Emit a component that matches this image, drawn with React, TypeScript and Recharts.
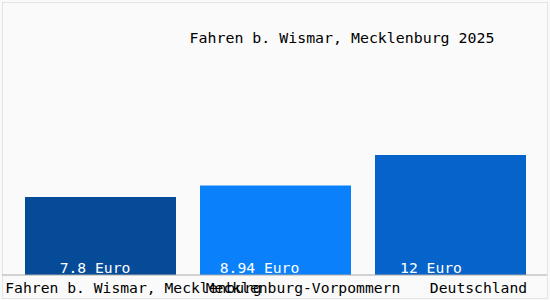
import React from "react";
import { BarChart, Bar, XAxis, YAxis, Cell, LabelList, Customized } from "recharts";

const categories = ["Fahren b. Wismar, Mecklenburg", "Mecklenburg-Vorpommern", "Deutschland"];
const values = [7.8, 8.94, 12];
const valueLabels = ["7.8 Euro", "8.94 Euro", "12 Euro"];
const title = "Fahren b. Wismar, Mecklenburg 2025";

const colors = ["#064b98", "#0a80fa", "#0663c9"];
const tickDx = [33, 27.5, 28];
const valueDx = [-5.5, -16, -19.5];

const data = categories.map((name, i) => ({ name, value: values[i], label: valueLabels[i] }));

const FONT = "'DejaVu Sans Mono', 'Liberation Mono', monospace";

const Tick = (props: any) => {
  const { x, y, payload, index } = props;
  return (
    <text x={x + tickDx[index]} y={y} dy={18} textAnchor="middle" fontFamily={FONT} fontSize={14.7} fill="#000">
      {payload.value}
    </text>
  );
};

const ValueLabel = (props: any) => {
  const { x, y, width, height, index } = props;
  return (
    <text x={x + width / 2 + valueDx[index]} y={y + height - 2} textAnchor="middle" fontFamily={FONT} fontSize={14.7} fill="#ffffff">
      {valueLabels[index]}
    </text>
  );
};

export default function App() {
  return (
    <div style={{ position: "absolute", left: 0, top: 0, width: 550, height: 300, background: "#fafafa" }}>
      <div style={{ position: "absolute", left: 2, top: 2, width: 544, height: 295, border: "1px solid #e4e4e4" }} />
      <div style={{ position: "absolute", left: 0, top: 0 }}>
        <BarChart
          width={550}
          height={300}
          data={data}
          margin={{ top: 75, right: 3, bottom: 0, left: 2 }}
          barCategoryGap={12}
        >
          <XAxis
            dataKey="name"
            height={25}
            padding={{ left: 11, right: 9 }}
            axisLine={{ stroke: "#aaaaaa" }}
            tickLine={false}
            tickSize={0}
            tickMargin={0}
            tick={<Tick />}
            interval={0}
          />
          <YAxis hide domain={[0, 20]} />
          <Customized
            component={() => (
              <text x={342} y={43} textAnchor="middle" fontFamily={FONT} fontSize={14.9} fill="#000">
                {title}
              </text>
            )}
          />
          <Bar dataKey="value" isAnimationActive={false}>
            {data.map((d, i) => (
              <Cell key={d.name} fill={colors[i]} />
            ))}
            <LabelList dataKey="label" content={<ValueLabel />} />
          </Bar>
        </BarChart>
      </div>
    </div>
  );
}
